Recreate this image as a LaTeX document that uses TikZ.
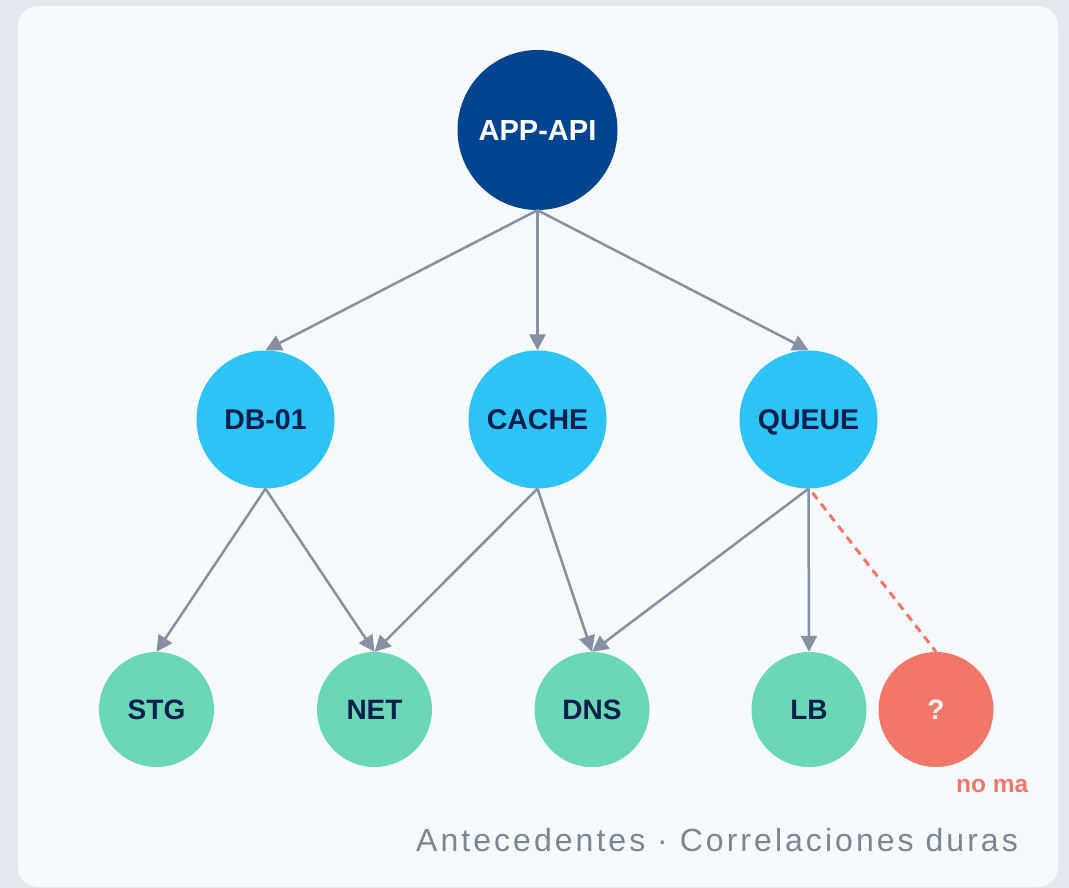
\documentclass[tikz,border=0pt]{standalone}
\usepackage{fontspec}
\setmainfont{Liberation Sans}
\newfontfamily\footfont[LetterSpace=9.5]{Liberation Sans}
\usetikzlibrary{arrows.meta}
\definecolor{bgc}{HTML}{E3E8EE}
\definecolor{cardc}{HTML}{F6FAFD}
\definecolor{rootc}{HTML}{00448F}
\definecolor{midc}{HTML}{2DC3F4}
\definecolor{leafc}{HTML}{6AD8B6}
\definecolor{salmon}{HTML}{F2776A}
\definecolor{navy}{HTML}{0B1F4D}
\definecolor{edgec}{HTML}{8590A0}
\definecolor{footc}{HTML}{7B8594}
\tikzset{
  capbox/.style={text height=20.5bp, text depth=0pt},
  rootnode/.style={circle, capbox, fill=rootc, minimum size=160bp, inner sep=0pt, text=white, font=\bfseries\fontsize{29bp}{30bp}\selectfont},
  midnode/.style={circle, capbox, fill=midc, minimum size=138bp, inner sep=0pt, text=navy, font=\bfseries\fontsize{28.5bp}{30bp}\selectfont},
  leafnode/.style={circle, capbox, fill=leafc, minimum size=115bp, inner sep=0pt, text=navy, font=\bfseries\fontsize{28bp}{30bp}\selectfont},
  missnode/.style={circle, capbox, fill=salmon, minimum size=115bp, inner sep=0pt, text=white, font=\bfseries\fontsize{28bp}{30bp}\selectfont},
  link/.style={draw=edgec, line width=2.5bp, -{Triangle[length=16bp,width=16bp]}},
  misslink/.style={draw=salmon, line width=3bp, dash pattern=on 8bp off 6bp},
}
\begin{document}
\begin{tikzpicture}[x=1bp,y=-1bp]
\useasboundingbox (0,0) rectangle (1069,888);
\fill[bgc] (0,0) rectangle (1069,888);
\fill[cardc, rounded corners=20bp] (18,6) rectangle (1058,887);

\node[rootnode] (app) at (537.5,130) {APP-API};
\node[midnode] (db) at (265.5,419.5) {DB-01};
\node[midnode] (cache) at (537.5,419.5) {CACHE};
\node[midnode] (queue) at (808.5,419.5) {QUEUE};
\node[leafnode] (stg) at (156.5,709.5) {STG};
\node[leafnode] (net) at (374.5,709.5) {NET};
\node[leafnode] (dns) at (592,709.5) {DNS};
\node[leafnode] (lb) at (809,709.5) {LB};
\node[missnode] (miss) at (936,709.5) {?};

\draw[link] (app.south) -- (db.north);
\draw[link] (app.south) -- (cache.north);
\draw[link] (app.south) -- (queue.north);
\draw[link] (db.south) -- (stg.north);
\draw[link] (db.south) -- (net.north);
\draw[link] (cache.south) -- (net.north);
\draw[link] (cache.south) -- (dns.north);
\draw[link] (queue.south) -- (dns.north);
\draw[link] (queue.south) -- (lb.north);
\draw[misslink] ([xshift=4bp,yshift=-4bp]queue.south) -- (miss.north);

\node[anchor=base west, inner sep=0pt, text=salmon, font=\bfseries\fontsize{24.5bp}{26bp}\selectfont] (nomatch) at (956,792) {no ma};
\node[anchor=base west, inner sep=0pt, text=footc, font=\footfont\fontsize{32bp}{34bp}\selectfont] (foot) at (416,851) {Antecedentes · Correlaciones duras};
\end{tikzpicture}
\end{document}
